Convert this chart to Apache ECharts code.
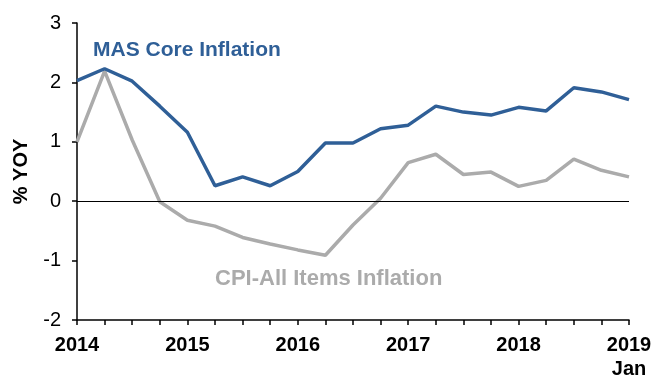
<!DOCTYPE html>
<html>
<head>
<meta charset="utf-8">
<script src="https://cdn.jsdelivr.net/npm/echarts@6/dist/echarts.min.js"></script>
<style>html,body{margin:0;padding:0;background:#fff}#c{width:657px;height:381px}</style>
</head>
<body>
<div id="c"></div>
<script>
var quarters = ['2014Q1','2014Q2','2014Q3','2014Q4','2015Q1','2015Q2','2015Q3','2015Q4','2016Q1','2016Q2','2016Q3','2016Q4','2017Q1','2017Q2','2017Q3','2017Q4','2018Q1','2018Q2','2018Q3','2018Q4','2019Q1'];
var tickLabels = {'2014Q1':'2014','2015Q1':'2015','2016Q1':'2016','2017Q1':'2017','2018Q1':'2018','2019Q1':'2019\nJan'};
var masCore = [2.03,2.23,2.02,1.6,1.16,0.26,0.41,0.26,0.5,0.98,0.98,1.22,1.28,1.6,1.5,1.45,1.58,1.52,1.91,1.84,1.71];
var cpiAll = [1.0,2.19,1.03,-0.01,-0.32,-0.42,-0.61,-0.72,-0.82,-0.91,-0.4,0.05,0.65,0.79,0.45,0.49,0.25,0.35,0.71,0.52,0.41];
var yMin = -2, yMax = 3, yStep = 1;

var chart = echarts.init(document.getElementById('c'));
chart.setOption({
  animation: false,
  grid: {left: 77, right: 28, top: 23, bottom: 57},
  xAxis: {
    type: 'category',
    data: quarters,
    boundaryGap: false,
    position: 'bottom',
    axisLine: {show: true, onZero: false, lineStyle: {color: '#000', width: 1.5}},
    axisTick: {show: true, interval: 0, length: 5, inside: false, lineStyle: {color: '#000', width: 1.5}},
    axisLabel: {
      interval: 0,
      margin: 13,
      color: '#000',
      fontFamily: 'Liberation Sans, Arial, sans-serif',
      fontWeight: 'bold',
      fontSize: 20,
      lineHeight: 24,
      formatter: function (v) { return tickLabels[v] || ''; }
    },
    splitLine: {show: false}
  },
  yAxis: {
    type: 'value',
    min: yMin, max: yMax, interval: yStep,
    name: '% YOY',
    nameLocation: 'middle',
    nameGap: 46,
    nameRotate: 90,
    nameTextStyle: {color: '#000', fontFamily: 'Liberation Sans, Arial, sans-serif', fontWeight: 'bold', fontSize: 20},
    axisLine: {show: true, lineStyle: {color: '#000', width: 1.5}},
    axisTick: {show: true, length: 5, lineStyle: {color: '#000', width: 1.5}},
    axisLabel: {margin: 16, color: '#000', fontFamily: 'Liberation Sans, Arial, sans-serif', fontSize: 20},
    splitLine: {show: false}
  },
  series: [
    {
      name: 'CPI-All Items Inflation',
      type: 'line',
      data: cpiAll,
      symbol: 'none',
      lineStyle: {color: '#ABABAB', width: 3.5},
      z: 2,
      markLine: {
        silent: true,
        symbol: 'none',
        label: {show: false},
        lineStyle: {color: '#000', width: 1.2, type: 'solid'},
        data: [{yAxis: 0}]
      }
    },
    {
      name: 'MAS Core Inflation',
      type: 'line',
      data: masCore,
      symbol: 'none',
      lineStyle: {color: '#2F5F97', width: 3.5},
      z: 3
    }
  ],
  graphic: [
    {type: 'text', left: 93, top: 40, style: {text: 'MAS Core Inflation', fill: '#2F5F97', font: 'bold 21px "Liberation Sans", Arial, sans-serif'}},
    {type: 'text', left: 215, top: 268, style: {text: 'CPI-All Items Inflation', fill: '#ABABAB', font: 'bold 22px "Liberation Sans", Arial, sans-serif'}}
  ]
});
</script>
</body>
</html>
